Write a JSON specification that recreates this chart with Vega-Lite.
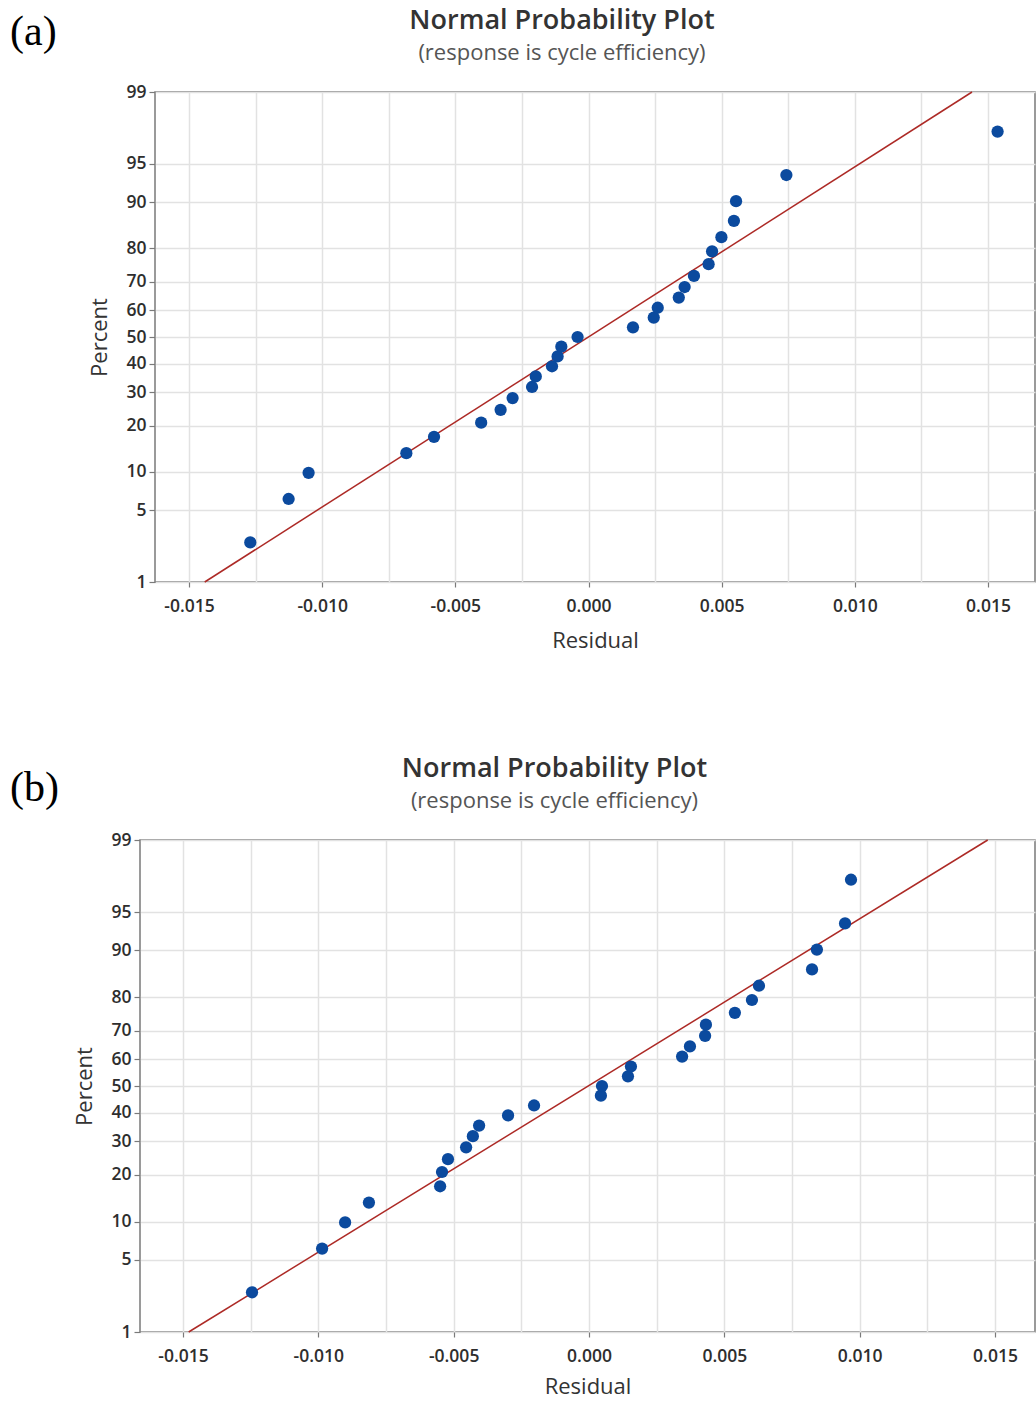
{
  "$schema": "https://vega.github.io/schema/vega-lite/v6.json",
  "background": "white",
  "padding": {"left": 10, "top": 6, "right": 0, "bottom": 0},
  "spacing": 101,
  "config": {
    "font": "Open Sans",
    "view": {"stroke": "#7a7a7a", "strokeWidth": 1.5},
    "axis": {
      "grid": true,
      "gridColor": "#e2e2e2",
      "gridWidth": 1.5,
      "domain": false,
      "tickColor": "#7a7a7a",
      "tickWidth": 1.2,
      "labelFont": "Open Sans",
      "labelFontSize": 17.5,
      "labelFontWeight": 600,
      "labelColor": "#2e2e2e",
      "labelOverlap": false,
      "labelFlush": false,
      "titleFont": "Open Sans",
      "titleFontSize": 22,
      "titleFontWeight": "normal",
      "titleColor": "#333333"
    },
    "title": {
      "font": "Open Sans",
      "fontSize": 27,
      "fontWeight": 600,
      "color": "#333333",
      "subtitleFont": "Open Sans",
      "subtitleFontSize": 22,
      "subtitleColor": "#555555",
      "subtitlePadding": 8,
      "offset": 18,
      "frame": "bounds",
      "anchor": "middle"
    }
  },
  "datasets": {
    "residA": [
      {"residual": -0.01270, "percent": 2.555},
      {"residual": -0.01126, "percent": 6.204},
      {"residual": -0.01051, "percent": 9.854},
      {"residual": -0.00684, "percent": 13.504},
      {"residual": -0.00580, "percent": 17.153},
      {"residual": -0.00403, "percent": 20.803},
      {"residual": -0.00330, "percent": 24.453},
      {"residual": -0.00285, "percent": 28.102},
      {"residual": -0.00212, "percent": 31.752},
      {"residual": -0.00198, "percent": 35.401},
      {"residual": -0.00137, "percent": 39.051},
      {"residual": -0.00116, "percent": 42.701},
      {"residual": -0.00102, "percent": 46.350},
      {"residual": -0.00041, "percent": 50.000},
      {"residual": 0.00167, "percent": 53.650},
      {"residual": 0.00245, "percent": 57.299},
      {"residual": 0.00260, "percent": 60.949},
      {"residual": 0.00339, "percent": 64.599},
      {"residual": 0.00361, "percent": 68.248},
      {"residual": 0.00396, "percent": 71.898},
      {"residual": 0.00451, "percent": 75.547},
      {"residual": 0.00464, "percent": 79.197},
      {"residual": 0.00499, "percent": 82.847},
      {"residual": 0.00546, "percent": 86.496},
      {"residual": 0.00554, "percent": 90.146},
      {"residual": 0.00743, "percent": 93.796},
      {"residual": 0.01536, "percent": 97.445}
    ],
    "fitA": [
      {"residual": -0.01441, "percent": 1},
      {"residual": 0.01440, "percent": 99}
    ],
    "residB": [
      {"residual": -0.01245, "percent": 2.555},
      {"residual": -0.00986, "percent": 6.204},
      {"residual": -0.00901, "percent": 9.854},
      {"residual": -0.00813, "percent": 13.504},
      {"residual": -0.00550, "percent": 17.153},
      {"residual": -0.00543, "percent": 20.803},
      {"residual": -0.00521, "percent": 24.453},
      {"residual": -0.00454, "percent": 28.102},
      {"residual": -0.00429, "percent": 31.752},
      {"residual": -0.00406, "percent": 35.401},
      {"residual": -0.00299, "percent": 39.051},
      {"residual": -0.00203, "percent": 42.701},
      {"residual": 0.00044, "percent": 46.350},
      {"residual": 0.00048, "percent": 50.000},
      {"residual": 0.00144, "percent": 53.650},
      {"residual": 0.00155, "percent": 57.299},
      {"residual": 0.00344, "percent": 60.949},
      {"residual": 0.00373, "percent": 64.599},
      {"residual": 0.00429, "percent": 68.248},
      {"residual": 0.00432, "percent": 71.898},
      {"residual": 0.00539, "percent": 75.547},
      {"residual": 0.00602, "percent": 79.197},
      {"residual": 0.00628, "percent": 82.847},
      {"residual": 0.00824, "percent": 86.496},
      {"residual": 0.00842, "percent": 90.146},
      {"residual": 0.00946, "percent": 93.796},
      {"residual": 0.00968, "percent": 97.445}
    ],
    "fitB": [
      {"residual": -0.01479, "percent": 1},
      {"residual": 0.01473, "percent": 99}
    ]
  },
  "vconcat": [
    {
      "spacing": 0,
      "hconcat": [
        {
          "width": 78,
          "height": 20,
          "view": {"stroke": null},
          "title": {"text": "(a)", "anchor": "start", "frame": "group", "font": "Liberation Serif", "fontSize": 42, "fontWeight": "normal", "color": "#000000", "offset": 38},
          "data": {"values": [{"panel": "(a)"}]},
          "mark": {"type": "text", "text": ""},
          "encoding": {}
        },
        {
          "width": 880,
          "height": 490,
          "title": {"text": "Normal Probability Plot", "subtitle": "(response is cycle efficiency)"},
          "encoding": {
            "x": {
              "field": "residual", "type": "quantitative",
              "scale": {"domain": [-0.016277, 0.016765], "nice": false, "zero": false},
              "axis": {
                "title": "Residual",
                "values": [-0.015, -0.0125, -0.01, -0.0075, -0.005, -0.0025, 0, 0.0025, 0.005, 0.0075, 0.01, 0.0125, 0.015],
                "labelExpr": "abs(round(datum.value*400)) % 2 == 1 ? '' : replace(format(datum.value, '.3f'), '\u2212', '-')",
                "tickSize": 5,
                "tickOpacity": {"condition": {"test": "abs(round(datum.value*400)) % 2 == 1", "value": 0}, "value": 1},
                "labelPadding": 10,
                "titlePadding": 16
              }
            },
            "y": {
              "field": "score", "type": "quantitative",
              "scale": {"domain": [-2.32635, 2.32635], "nice": false, "zero": false},
              "axis": {
                "title": "Percent",
                "values": [-2.32635, -1.64485, -1.28155, -0.84162, -0.52440, -0.25335, 0, 0.25335, 0.52440, 0.84162, 1.28155, 1.64485, 2.32635],
                "labelExpr": "format(cumulativeNormal(datum.value) * 100, '.0f')",
                "tickSize": 6,
                "labelPadding": 3,
                "titlePadding": 14
              }
            }
          },
          "layer": [
            {
              "data": {"name": "fitA"},
              "transform": [{"calculate": "quantileNormal(datum.percent / 100)", "as": "score"}],
              "mark": {"type": "line", "color": "#ad2a26", "strokeWidth": 1.5}
            },
            {
              "data": {"name": "residA"},
              "transform": [{"calculate": "quantileNormal(datum.percent / 100)", "as": "score"}],
              "mark": {"type": "circle", "size": 150, "color": "#0b4a9e", "opacity": 1}
            }
          ]
        }
      ]
    },
    {
      "spacing": 0,
      "hconcat": [
        {
          "width": 63,
          "height": 20,
          "view": {"stroke": null},
          "title": {"text": "(b)", "anchor": "start", "frame": "group", "font": "Liberation Serif", "fontSize": 42, "fontWeight": "normal", "color": "#000000", "offset": 30},
          "data": {"values": [{"panel": "(b)"}]},
          "mark": {"type": "text", "text": ""},
          "encoding": {}
        },
        {
          "width": 895,
          "height": 492,
          "title": {"text": "Normal Probability Plot", "subtitle": "(response is cycle efficiency)"},
          "encoding": {
            "x": {
              "field": "residual", "type": "quantitative",
              "scale": {"domain": [-0.016588, 0.016478], "nice": false, "zero": false},
              "axis": {
                "title": "Residual",
                "values": [-0.015, -0.0125, -0.01, -0.0075, -0.005, -0.0025, 0, 0.0025, 0.005, 0.0075, 0.01, 0.0125, 0.015],
                "labelExpr": "abs(round(datum.value*400)) % 2 == 1 ? '' : replace(format(datum.value, '.3f'), '\u2212', '-')",
                "tickSize": 5,
                "tickOpacity": {"condition": {"test": "abs(round(datum.value*400)) % 2 == 1", "value": 0}, "value": 1},
                "labelPadding": 10,
                "titlePadding": 12
              }
            },
            "y": {
              "field": "score", "type": "quantitative",
              "scale": {"domain": [-2.32635, 2.32635], "nice": false, "zero": false},
              "axis": {
                "title": "Percent",
                "values": [-2.32635, -1.64485, -1.28155, -0.84162, -0.52440, -0.25335, 0, 0.25335, 0.52440, 0.84162, 1.28155, 1.64485, 2.32635],
                "labelExpr": "format(cumulativeNormal(datum.value) * 100, '.0f')",
                "tickSize": 6,
                "labelPadding": 3,
                "titlePadding": 14
              }
            }
          },
          "layer": [
            {
              "data": {"name": "fitB"},
              "transform": [{"calculate": "quantileNormal(datum.percent / 100)", "as": "score"}],
              "mark": {"type": "line", "color": "#ad2a26", "strokeWidth": 1.5}
            },
            {
              "data": {"name": "residB"},
              "transform": [{"calculate": "quantileNormal(datum.percent / 100)", "as": "score"}],
              "mark": {"type": "circle", "size": 150, "color": "#0b4a9e", "opacity": 1}
            }
          ]
        }
      ]
    }
  ]
}
